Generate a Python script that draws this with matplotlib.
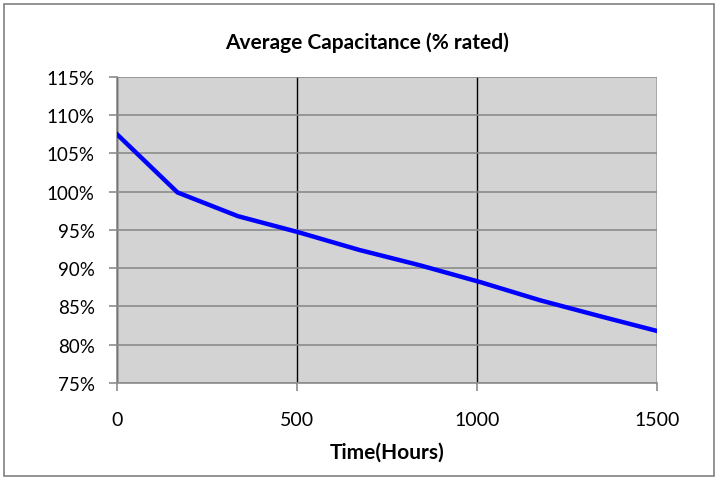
import numpy as np
import matplotlib.pyplot as plt
from matplotlib.ticker import FuncFormatter
from matplotlib.patches import Rectangle

# data
hours = [0, 168, 336, 504, 672, 840, 1008, 1176, 1344, 1500]
capacitance = [107.5, 99.9, 96.8, 94.7, 92.4, 90.4, 88.2, 85.8, 83.7, 81.8]

plt.rcParams['font.family'] = ['Lato', 'DejaVu Sans']

fig = plt.figure(figsize=(7.18, 4.81), dpi=100)
ax = fig.add_axes([0.163, 0.2017, 0.752, 0.6363])

# outer chart border
fig.patches.append(Rectangle((0.006, 0.008), 0.988, 0.982, transform=fig.transFigure,
                             fill=False, edgecolor='#808080', linewidth=1.2))

ax.set_facecolor('#d3d3d3')
ax.plot(hours, capacitance, color='#0000ff', linewidth=3.2, zorder=3)

ax.set_xlim(0, 1500)
ax.set_ylim(75, 115)
ax.set_xticks([0, 500, 1000, 1500])
ax.set_yticks(np.arange(75, 116, 5))
ax.yaxis.set_major_formatter(FuncFormatter(lambda v, p: '%d%%' % v))

ax.grid(axis='y', color='#8c8c8c', linewidth=1.2)
ax.grid(axis='x', color='black', linewidth=1.0)
ax.set_axisbelow(True)

for s in ['top', 'right']:
    ax.spines[s].set_visible(False)
ax.spines['left'].set_color('#8c8c8c')
ax.spines['bottom'].set_color('#8c8c8c')
ax.spines['left'].set_linewidth(1.2)
ax.spines['bottom'].set_linewidth(1.2)
ax.tick_params(axis='both', colors='#8c8c8c', labelcolor='black', labelsize=13.5, length=6, width=1.2)
ax.tick_params(axis='x', labelsize=14, pad=14)
ax.tick_params(axis='y', pad=10)

fig.text(367 / 718, 1 - 43 / 481, 'Average Capacitance (% rated)', fontsize=15,
         fontweight='bold', ha='center', va='center')
ax.set_xlabel('Time(Hours)', fontsize=15, fontweight='bold', labelpad=10)

fig.savefig('out.png', dpi=100)
